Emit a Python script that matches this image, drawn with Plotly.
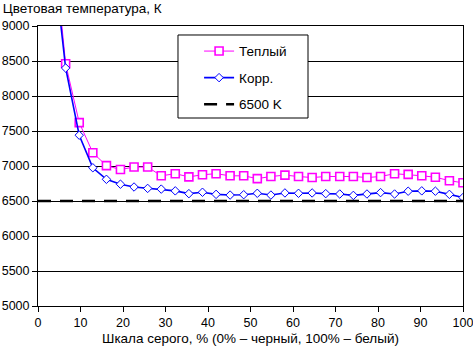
import plotly.graph_objects as go

# Grey-scale level, % (0% black, 100% white)
gray_level = [3.2, 6.5, 9.7, 12.9, 16.1, 19.4, 22.6, 25.8, 29.0, 32.3, 35.5,
              38.7, 41.9, 45.2, 48.4, 51.6, 54.8, 58.1, 61.3, 64.5, 67.7,
              71.0, 74.2, 77.4, 80.6, 83.9, 87.1, 90.3, 93.5, 96.8, 100.0]

# Colour temperature, K
temp_warm = [10500, 8460, 7620, 7190, 7005, 6950, 6985, 6985, 6860, 6890, 6845,
             6875, 6890, 6860, 6860, 6820, 6850, 6870, 6850, 6835, 6850,
             6850, 6850, 6835, 6850, 6890, 6880, 6860, 6840, 6790, 6760]
temp_corr = [10200, 8400, 7440, 6975, 6810, 6740, 6700, 6680, 6670, 6645, 6605,
             6625, 6595, 6585, 6590, 6610, 6585, 6615, 6610, 6615, 6605,
             6600, 6580, 6600, 6620, 6600, 6640, 6645, 6640, 6595, 6550]

# Reference white point
ref_x = [0, 100]
ref_temp = [6500, 6500]

series_names = ["Теплый", "Корр.", "6500 K"]
x_ticks = [0, 10, 20, 30, 40, 50, 60, 70, 80, 90, 100]
y_ticks = [5000, 5500, 6000, 6500, 7000, 7500, 8000, 8500, 9000]

FONT = "Liberation Sans, Arial, sans-serif"
TEXT_SIZE = 13.5
TICK_SIZE = 12.5

fig = go.Figure()
fig.add_trace(go.Scatter(
    x=gray_level, y=temp_warm, name=series_names[0], legendgroup="a",
    mode="lines+markers",
    line=dict(color="#FF00FF", width=1),
    marker=dict(symbol="square", size=8, color="white",
                line=dict(color="#FF00FF", width=1.6)),
))
fig.add_trace(go.Scatter(
    x=gray_level, y=temp_corr, name=series_names[1], legendgroup="b",
    mode="lines+markers",
    line=dict(color="#0000FF", width=1.6),
    marker=dict(symbol="diamond", size=6.5, color="white",
                line=dict(color="#0000FF", width=1)),
))
fig.add_trace(go.Scatter(
    x=ref_x, y=ref_temp, name=series_names[2], legendgroup="c",
    mode="lines",
    line=dict(color="black", width=2.5, dash="13px,9px"),
))

# Legend frame
fig.add_shape(type="rect", xref="paper", yref="paper",
              x0=0.3294, x1=0.6353, y0=0.6714, y1=0.9679,
              line=dict(color="black", width=1), fillcolor="white",
              layer="above")

axis_common = dict(
    showline=True, linecolor="black", linewidth=1, mirror=True,
    ticks="outside", ticklen=5, tickcolor="black", tickwidth=1,
    tickfont=dict(family=FONT, size=TICK_SIZE, color="black"),
    zeroline=False, automargin=False, ticklabeloverflow="allow",
)

fig.update_layout(
    width=473, height=349,
    margin=dict(l=38, r=10, t=26, b=43),
    plot_bgcolor="white", paper_bgcolor="white",
    font=dict(family=FONT, size=TEXT_SIZE, color="black"),
    title=dict(text="Цветовая температура, К", xref="container", yref="container",
               x=0.006, xanchor="left", y=0.977, yanchor="middle",
               font=dict(family=FONT, size=TEXT_SIZE, color="black")),
    xaxis=dict(range=[0, 100], tickvals=x_ticks, showgrid=False,
               title=dict(text="Шкала серого, % (0% – черный, 100% – белый)",
                          font=dict(family=FONT, size=TEXT_SIZE, color="black"),
                          standoff=4),
               **axis_common),
    yaxis=dict(range=[5000, 9000], tickvals=y_ticks, showgrid=True,
               gridcolor="black", gridwidth=1, **axis_common),
    legend=dict(x=0.379, y=0.965, xanchor="left", yanchor="top",
                bgcolor="rgba(0,0,0,0)", borderwidth=0,
                traceorder="grouped", tracegroupgap=6,
                font=dict(family=FONT, size=TEXT_SIZE, color="black")),
    showlegend=True,
)

fig.write_html("out.html")
